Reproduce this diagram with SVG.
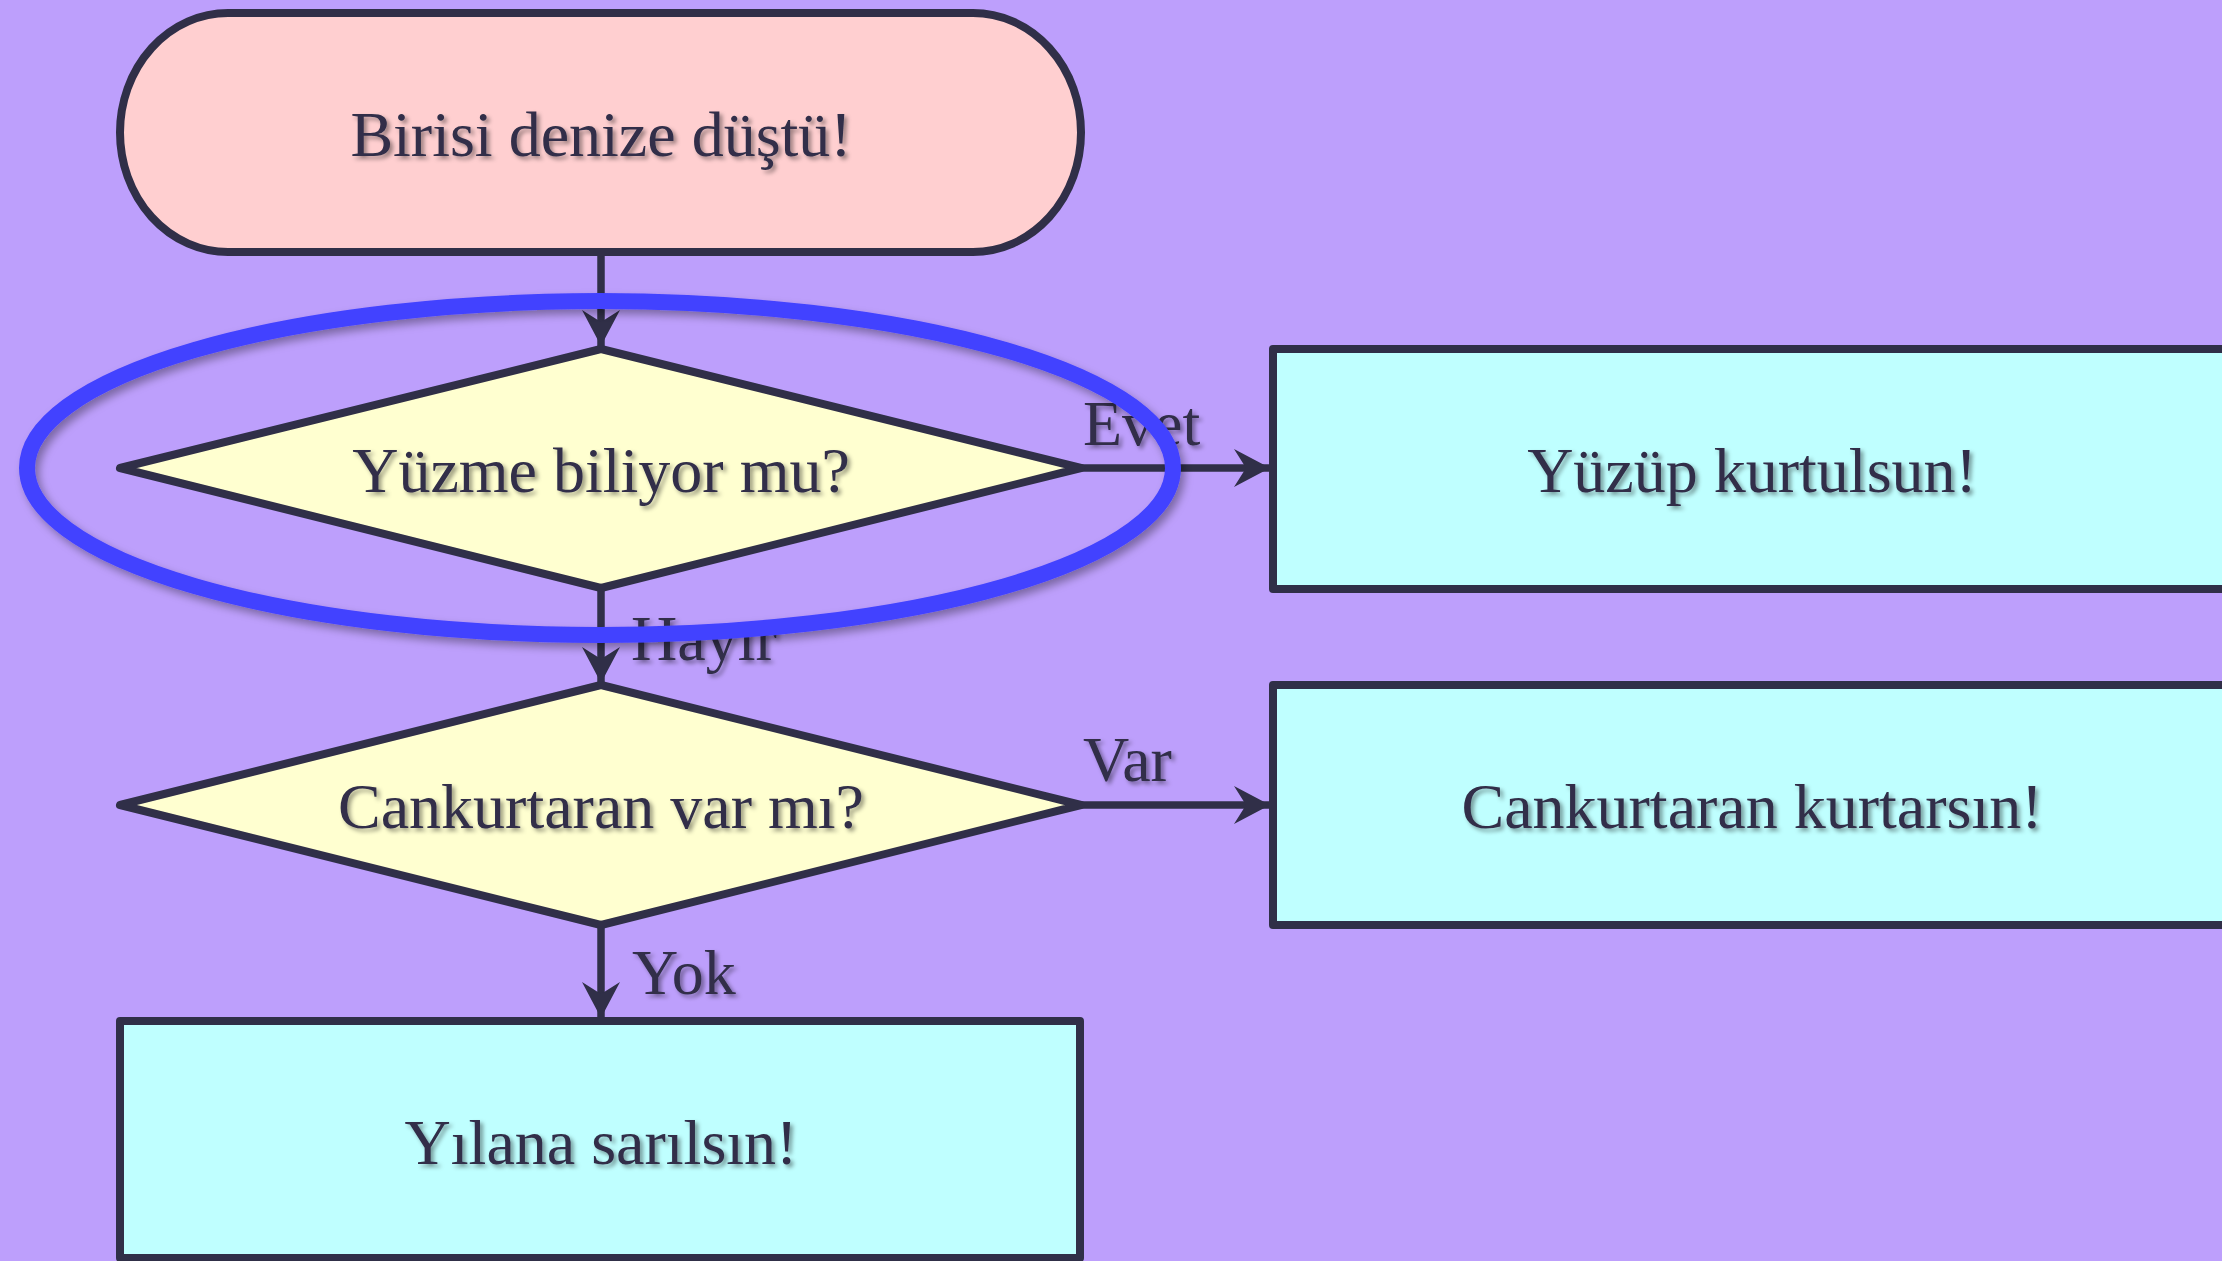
<svg xmlns="http://www.w3.org/2000/svg" width="2222" height="1261" viewBox="0 0 2222 1261">
  <defs>
    <style>
      .shape { stroke: #302F48; stroke-width: 8; stroke-linejoin: round; }
      .term { fill: #FFCFD0; }
      .dec { fill: #FFFFD0; }
      .proc { fill: #BFFFFF; }
      .lbl { font-family: "Liberation Serif", "Times New Roman", serif; font-size: 64px; fill: #302F48; filter: url(#tshadow); }
      .mid { text-anchor: middle; }
      .edge { stroke: #302F48; stroke-width: 7.5; fill: none; marker-end: url(#arrow); }
    </style>
    <filter id="tshadow" x="-10%" y="-20%" width="120%" height="150%">
      <feDropShadow dx="3" dy="3" stdDeviation="2" flood-color="#000000" flood-opacity="0.4"/>
    </filter>
    <filter id="eshadow" x="-10%" y="-20%" width="120%" height="150%">
      <feDropShadow dx="4" dy="5" stdDeviation="4" flood-color="#000000" flood-opacity="0.35"/>
    </filter>
    <marker id="arrow" markerUnits="userSpaceOnUse" viewBox="-40 -22 44 44" refX="0" refY="0" markerWidth="44" markerHeight="44" orient="auto">
      <path d="M0,0 L-36,-19 L-24,0 L-36,19 Z" fill="#302F48"/>
    </marker>
  </defs>
  <rect x="0" y="0" width="2222" height="1261" fill="#BD9FFC"/>

  <g id="connectors">
    <line class="edge" x1="601" y1="252" x2="601" y2="346"/>
    <line class="edge" x1="1081" y1="468" x2="1270" y2="468"/>
    <line class="edge" x1="601" y1="588" x2="601" y2="683"/>
    <line class="edge" x1="1081" y1="805" x2="1270" y2="805"/>
    <line class="edge" x1="601" y1="925" x2="601" y2="1018"/>
    <text class="lbl" x="1083" y="445">Evet</text>
    <text class="lbl" x="631" y="660">Hayır</text>
    <text class="lbl" x="1083" y="781">Var</text>
    <text class="lbl" x="632" y="994">Yok</text>
  </g>

  <g id="start">
    <rect class="shape term" x="120" y="13" width="961" height="239" rx="108" ry="119.5"/>
    <text class="lbl mid" x="601" y="156">Birisi denize düştü!</text>
  </g>

  <g id="q1">
    <polygon class="shape dec" points="601,349 1081,468 601,588 120,468"/>
    <text class="lbl mid" x="601" y="492">Yüzme biliyor mu?</text>
  </g>

  <g id="yuzup">
    <rect class="shape proc" x="1273" y="349" width="961" height="240"/>
    <text class="lbl mid" x="1752" y="492">Yüzüp kurtulsun!</text>
  </g>

  <g id="q2">
    <polygon class="shape dec" points="601,685 1081,805 601,925 120,805"/>
    <text class="lbl mid" x="601" y="828">Cankurtaran var mı?</text>
  </g>

  <g id="cankurtaran">
    <rect class="shape proc" x="1273" y="685" width="961" height="240"/>
    <text class="lbl mid" x="1752" y="828">Cankurtaran kurtarsın!</text>
  </g>

  <g id="yilana">
    <rect class="shape proc" x="120" y="1021" width="960" height="237"/>
    <text class="lbl mid" x="601" y="1164">Yılana sarılsın!</text>
  </g>

  <g id="highlight">
    <ellipse cx="600" cy="468" rx="573" ry="167" fill="none" stroke="#4242FF" stroke-width="16" filter="url(#eshadow)"/>
  </g>
</svg>
